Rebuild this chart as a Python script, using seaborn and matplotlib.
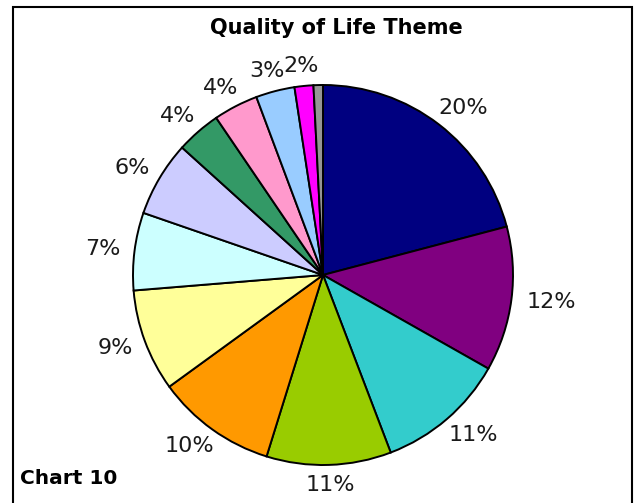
import matplotlib
matplotlib.use("Agg")
import matplotlib.pyplot as plt
import seaborn as sns
import numpy as np
from matplotlib.patches import Rectangle

# slice shares, clockwise from 12 o'clock
shares = [20.9, 12.3, 11.0, 10.6, 10.2, 8.7, 6.6, 6.4, 3.8, 3.8, 3.3, 1.6, 0.8]
pct_labels = ["20%", "12%", "11%", "11%", "10%", "9%", "7%", "6%", "4%", "4%", "3%", "2%", ""]
colors = ["#000080", "#800080", "#33CCCC", "#99CC00", "#FF9900", "#FFFF99",
          "#CCFFFF", "#CCCCFF", "#339966", "#FF99CC", "#99CCFF", "#FF00FF", "#969696"]

sns.set_theme(style="white")
plt.rcParams['font.family'] = ['DejaVu Sans']

fig = plt.figure(figsize=(6.35, 5.03), dpi=100)
fig.patch.set_facecolor("white")

# pie centre ~ (323, 275) px, radius ~190 px
W, H = 635, 503
cx, cy, r = 323, 275, 190
ax = fig.add_axes([(cx - r) / W, (H - cy - r) / H, 2 * r / W, 2 * r / H])

wedges, texts, autotexts = ax.pie(
    shares, colors=colors, startangle=90, counterclock=False,
    autopct="%1.0f%%", pctdistance=1.1, radius=1,
    wedgeprops=dict(edgecolor="black", linewidth=1.4),
)
for t, lab in zip(autotexts, pct_labels):
    t.set_text(lab)
    t.set_fontsize(16)
    t.set_color("#1a1a1a")
ax.set_xlim(-1, 1)
ax.set_ylim(-1, 1)
ax.set_aspect("equal")
ax.axis("off")

# push each label out so its box sits just off the rim (Excel style)
fig.canvas.draw()
renderer = fig.canvas.get_renderer()
d = 1.06
for w, t in zip(wedges, autotexts):
    ang = np.deg2rad((w.theta1 + w.theta2) / 2)
    bb = t.get_window_extent(renderer)
    hw = bb.width / 2 / r
    hh = bb.height / 2 / r
    t.set_position((np.cos(ang) * (d + 1.15 * hw), np.sin(ang) * (d + 0.9 * hh)))

fig.text(336 / W, 1 - 28 / H, "Quality of Life Theme", ha="center", va="center",
         fontsize=15, fontweight="bold", color="black")
fig.text(20 / W, 1 - 478 / H, "Chart 10", ha="left", va="center",
         fontsize=14.5, fontweight="bold", color="black")

# chart border (bottom edge falls off the image)
fig.patches.append(Rectangle((13 / W, -0.05), (632 - 13) / W, 1.05 - 7 / H,
                             transform=fig.transFigure, fill=False,
                             edgecolor="black", linewidth=1.5))

fig.savefig("out.png", dpi=100)
